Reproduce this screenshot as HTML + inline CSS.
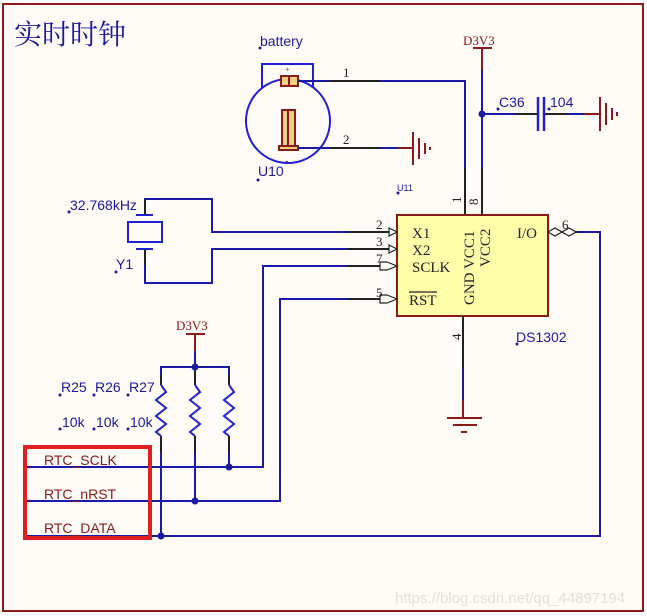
<!DOCTYPE html>
<html><head><meta charset="utf-8"><style>
html,body{margin:0;padding:0;background:#fff;}
svg{display:block;}
text{font-family:"Liberation Sans",sans-serif;}
.s text{font-family:"Liberation Serif",serif;}
.t{font-family:"Noto Serif CJK SC",serif !important;}
</style></head><body>
<svg width="647" height="616" viewBox="0 0 647 616" xmlns="http://www.w3.org/2000/svg">
<rect x="3" y="4" width="640" height="607" fill="#fffbf6" stroke="#8b1a1a" stroke-width="2"/>
<text class="t" x="14" y="44" font-size="28" fill="#1a1aa0">实时时钟</text>
<g fill="none" stroke-width="2">
<rect x="262" y="64" width="51" height="26" stroke="#2020d0"/>
<circle cx="288" cy="121" r="42" stroke="#2020d0" fill="#fffbf6"/>
<rect x="281" y="76" width="17" height="10" stroke="#8b1a1a" fill="#f0d080"/>
<line x1="289" y1="76" x2="289" y2="86" stroke="#8b1a1a"/>
<rect x="282" y="110" width="13" height="38" stroke="#8b1a1a" fill="#f0d080"/>
<line x1="288" y1="110" x2="288" y2="148" stroke="#8b1a1a"/>
<rect x="279" y="146" width="19" height="4" stroke="#8b1a1a" fill="#f0d080"/>
<polyline points="298,81 465,81 465,215" stroke="#1a1aa6"/>
<line x1="330" y1="81" x2="380" y2="81" stroke="#222"/>
<line x1="465" y1="168" x2="465" y2="215" stroke="#222"/>
<polyline points="298,148 400,148" stroke="#1a1aa6"/>
<line x1="330" y1="148" x2="380" y2="148" stroke="#222"/>
<line x1="398" y1="148" x2="413" y2="148" stroke="#8b1a1a"/>
<line x1="413" y1="132" x2="413" y2="165" stroke="#8b1a1a"/>
<line x1="419" y1="138" x2="419" y2="159" stroke="#8b1a1a"/>
<line x1="425" y1="143" x2="425" y2="154" stroke="#8b1a1a"/>
<line x1="430" y1="147" x2="430" y2="150" stroke="#8b1a1a"/>
<line x1="473" y1="48" x2="492" y2="48" stroke="#8b1a1a"/>
<line x1="482" y1="48" x2="482" y2="70" stroke="#8b1a1a"/>
<line x1="482" y1="70" x2="482" y2="215" stroke="#1a1aa6"/>
<line x1="482" y1="168" x2="482" y2="215" stroke="#222"/>
<line x1="482" y1="114" x2="537" y2="114" stroke="#1a1aa6"/>
<line x1="515" y1="114" x2="537" y2="114" stroke="#222"/>
<line x1="538" y1="97" x2="538" y2="131" stroke="#2020d0" stroke-width="2.5"/>
<line x1="544" y1="97" x2="544" y2="131" stroke="#2020d0" stroke-width="2.5"/>
<line x1="545" y1="114" x2="584" y2="114" stroke="#222"/>
<line x1="567" y1="114" x2="584" y2="114" stroke="#1a1aa6"/>
<line x1="584" y1="114" x2="600" y2="114" stroke="#8b1a1a"/>
<line x1="600" y1="97" x2="600" y2="131" stroke="#8b1a1a"/>
<line x1="606" y1="103" x2="606" y2="125" stroke="#8b1a1a"/>
<line x1="612" y1="108" x2="612" y2="120" stroke="#8b1a1a"/>
<line x1="617" y1="112" x2="617" y2="116" stroke="#8b1a1a"/>
<rect x="397" y="215" width="151" height="101" fill="#ffffaa" stroke="#8b1a1a"/>
<polyline points="145,215 145,199 212,199 212,232 397,232" stroke="#1a1aa6"/>
<polyline points="145,249 145,283 212,283 212,249 397,249" stroke="#1a1aa6"/>
<line x1="145" y1="199" x2="145" y2="215" stroke="#222"/>
<line x1="145" y1="249" x2="145" y2="265" stroke="#222"/>
<line x1="136" y1="215" x2="153" y2="215" stroke="#2020d0"/>
<line x1="136" y1="249" x2="153" y2="249" stroke="#2020d0"/>
<rect x="128" y="222" width="34" height="20" stroke="#2020d0"/>
<line x1="347" y1="232" x2="397" y2="232" stroke="#222"/>
<line x1="347" y1="249" x2="397" y2="249" stroke="#222"/>
<polyline points="24,467 263,467 263,266 390,266" stroke="#1a1aa6"/>
<polyline points="24,501 280,501 280,299 390,299" stroke="#1a1aa6"/>
<polyline points="24,536 600,536 600,232 570,232" stroke="#1a1aa6"/>
<line x1="347" y1="266" x2="390" y2="266" stroke="#222"/>
<line x1="347" y1="299" x2="390" y2="299" stroke="#222"/>
<line x1="560" y1="232" x2="580" y2="232" stroke="#222"/>
<line x1="463" y1="316" x2="463" y2="368" stroke="#222"/>
<line x1="463" y1="368" x2="463" y2="400" stroke="#1a1aa6"/>
<line x1="463" y1="400" x2="463" y2="418" stroke="#8b1a1a"/>
<line x1="447" y1="418" x2="482" y2="418" stroke="#8b1a1a"/>
<line x1="453" y1="425" x2="477" y2="425" stroke="#8b1a1a"/>
<line x1="461" y1="432" x2="467" y2="432" stroke="#8b1a1a"/>
<line x1="186" y1="334" x2="205" y2="334" stroke="#8b1a1a"/>
<line x1="195" y1="334" x2="195" y2="351" stroke="#8b1a1a"/>
<line x1="195" y1="351" x2="195" y2="367" stroke="#1a1aa6"/>
<polyline points="161,385 161,367 229,367 229,385" stroke="#1a1aa6"/>
<line x1="195" y1="367" x2="195" y2="385" stroke="#222"/>
<line x1="161" y1="375" x2="161" y2="385" stroke="#222"/>
<line x1="229" y1="375" x2="229" y2="385" stroke="#222"/>
<polyline points="161,385 166,392 156,400 166,408 156,416 166,424 156,432 161,436" stroke="#2020d0"/>
<polyline points="195,385 200,392 190,400 200,408 190,416 200,424 190,432 195,436" stroke="#2020d0"/>
<polyline points="229,385 234,392 224,400 234,408 224,416 234,424 224,432 229,436" stroke="#2020d0"/>
<line x1="161" y1="436" x2="161" y2="536" stroke="#1a1aa6"/>
<line x1="195" y1="436" x2="195" y2="501" stroke="#1a1aa6"/>
<line x1="229" y1="436" x2="229" y2="467" stroke="#1a1aa6"/>
<line x1="161" y1="436" x2="161" y2="452" stroke="#222"/>
<line x1="195" y1="436" x2="195" y2="452" stroke="#222"/>
<line x1="229" y1="436" x2="229" y2="452" stroke="#222"/>
<rect x="25" y="447" width="125" height="91" stroke="#e02020" stroke-width="4"/>
</g>
<g fill="#fffbf6" stroke="#222" stroke-width="1.2">
<polygon points="389,228 397,232 389,236"/>
<polygon points="389,245 397,249 389,253"/>
<polygon points="387,262 397,266 387,270 380,270 380,262"/>
<polygon points="387,295 397,299 387,303 380,303 380,295"/>
<polygon points="548,232 555,228 562,232 555,236"/>
<polygon points="562,232 569,228 576,232 569,236"/>
</g>
<g fill="#1a1aa0">
<circle cx="482" cy="114" r="3.5"/>
<circle cx="195" cy="367" r="3.5"/>
<circle cx="229" cy="467" r="3.5"/>
<circle cx="195" cy="501" r="3.5"/>
<circle cx="161" cy="536" r="3.5"/>
<circle cx="260" cy="48" r="1.5"/><circle cx="258" cy="180" r="1.5"/><circle cx="398" cy="193" r="1.5"/>
<circle cx="498" cy="109" r="1.5"/><circle cx="549" cy="109" r="1.5"/><circle cx="517" cy="344" r="1.5"/>
<circle cx="69" cy="212" r="1.5"/><circle cx="116" cy="272" r="1.5"/>
<circle cx="60" cy="395" r="1.5"/><circle cx="94" cy="395" r="1.5"/><circle cx="128" cy="395" r="1.5"/>
<circle cx="60" cy="429" r="1.5"/><circle cx="94" cy="429" r="1.5"/><circle cx="128" cy="429" r="1.5"/>
</g>
<g fill="#1a1aa0" font-size="14">
<text x="260" y="46">battery</text>
<text x="258" y="176">U10</text>
<text x="397" y="191" font-size="9">U11</text>
<text x="499" y="107">C36</text>
<text x="550" y="107">104</text>
<text x="516" y="342">DS1302</text>
<text x="70" y="210">32.768kHz</text>
<text x="116" y="269">Y1</text>
<text x="61" y="392">R25</text><text x="95" y="392">R26</text><text x="129" y="392">R27</text>
<text x="62" y="427">10k</text><text x="96" y="427">10k</text><text x="130" y="427">10k</text>
</g>
<g class="s" fill="#222" font-size="13">
<text x="343" y="77">1</text>
<text x="343" y="144">2</text>
<text x="376" y="229">2</text>
<text x="376" y="246">3</text>
<text x="376" y="263">7</text>
<text x="376" y="297">5</text>
<text x="562" y="229">6</text>
<text x="412" y="238" font-size="15">X1</text>
<text x="412" y="255" font-size="15">X2</text>
<text x="412" y="272" font-size="15">SCLK</text>
<text x="409" y="305" font-size="15">RST</text>
<line x1="409" y1="292" x2="437" y2="292" stroke="#222" stroke-width="1.2"/>
<text x="517" y="238" font-size="15">I/O</text>
<text transform="translate(474,305) rotate(-90)" font-size="15">GND VCC1</text>
<text transform="translate(490,267) rotate(-90)" font-size="15">VCC2</text>
<text transform="translate(461,203) rotate(-90)">1</text>
<text transform="translate(478,205) rotate(-90)">8</text>
<text transform="translate(461,340) rotate(-90)">4</text>
</g>
<g class="s" fill="#8b1a1a" font-size="13">
<text x="463" y="45">D3V3</text>
<text x="176" y="330">D3V3</text>
<text x="285" y="72" font-size="8">+</text>
<text x="285" y="164" font-size="10">-</text>
</g>
<g fill="#8b1a1a" font-size="14">
<text x="44" y="465">RTC_SCLK</text>
<text x="44" y="499">RTC_nRST</text>
<text x="44" y="533">RTC_DATA</text>
</g>
<text x="395" y="603" font-size="15" fill="#e4e0dc">https://blog.csdn.net/qq_44897194</text>
</svg>
</body></html>
